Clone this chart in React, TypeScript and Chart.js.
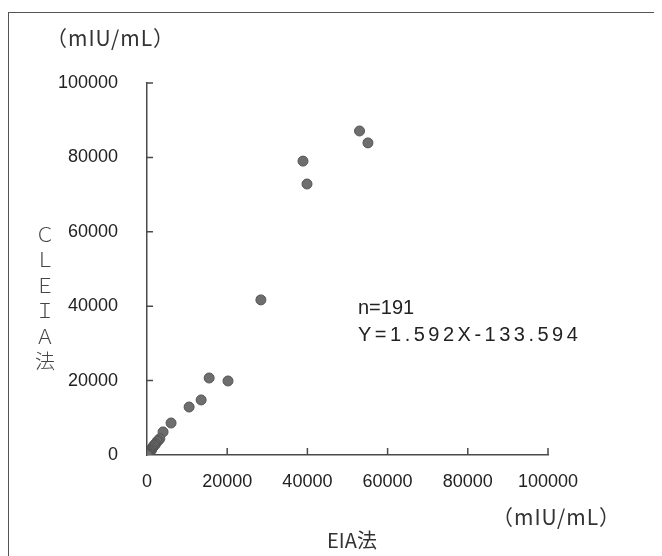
import React, { useEffect, useRef } from "react";
import { Chart, registerables } from "chart.js";

Chart.register(...registerables);

// EIA法 (x) vs CLEIA法 (y), mIU/mL
const eiaValues = [
  53000, 55100, 38900, 39900, 28400, 15500, 20200, 13500, 10500, 6000, 4000,
  3200, 2800, 2500, 2200, 2000, 1900, 1700, 1500, 1300, 1200, 1100, 1000, 900,
  800, 700, 600, 600, 500, 400, 400, 350, 300, 250, 200, 150, 100, 80, 50, 30, 20,
];
const cleiaValues = [
  87100, 83900, 79000, 72850, 41700, 20700, 19900, 14800, 12900, 8600, 6200,
  4400, 3900, 3600, 3100, 2800, 2700, 2500, 2200, 1900, 1500, 1600, 1200, 1300,
  1100, 900, 800, 1000, 700, 600, 500, 450, 400, 350, 300, 200, 150, 100, 60, 40, 20,
];
const xTicks = [0, 20000, 40000, 60000, 80000, 100000];
const yTicks = [0, 20000, 40000, 60000, 80000, 100000];
const unitLabel = "（mIU/mL）";
const xTitle = "EIA法";
const yTitleChars = ["Ｃ", "Ｌ", "Ｅ", "Ｉ", "Ａ", "法"];
const annotationLines = ["n=191", "Y=1.592X-133.594"];

const AXIS_COLOR = "#4a4a4a";
const TEXT_COLOR = "#222";

const inwardTicks = {
  id: "inwardTicks",
  afterDraw(chart: any) {
    const ctx = chart.ctx;
    const xs = chart.scales.x;
    const ys = chart.scales.y;
    const area = chart.chartArea;
    ctx.save();
    ctx.strokeStyle = AXIS_COLOR;
    ctx.lineWidth = 1.5;
    ctx.beginPath();
    xTicks.forEach((v) => {
      if (v === 0) return;
      const px = xs.getPixelForValue(v);
      ctx.moveTo(px, area.bottom);
      ctx.lineTo(px, area.bottom - 7);
    });
    yTicks.forEach((v) => {
      if (v === 0) return;
      const py = ys.getPixelForValue(v);
      ctx.moveTo(area.left, py);
      ctx.lineTo(area.left + 6, py);
    });
    ctx.stroke();
    ctx.restore();
  },
};

export default function App() {
  const canvasRef = useRef<HTMLCanvasElement | null>(null);

  useEffect(() => {
    if (!canvasRef.current) return;
    const points = eiaValues.map((x, i) => ({ x, y: cleiaValues[i] }));
    const chart = new Chart(canvasRef.current, {
      type: "scatter",
      data: {
        datasets: [
          {
            data: points,
            backgroundColor: "#6e6e6e",
            borderColor: "#555",
            borderWidth: 1,
            pointRadius: 5,
          },
        ],
      },
      options: {
        animation: false,
        responsive: false,
        maintainAspectRatio: false,
        layout: { padding: { left: 40, right: 106, top: 75, bottom: 61 } },
        plugins: { legend: { display: false }, tooltip: { enabled: false } },
        scales: {
          x: {
            type: "linear",
            min: 0,
            max: 100000,
            afterFit: (s: any) => {
              s.height = 40;
            },
            afterBuildTicks: (s: any) => {
              s.ticks = xTicks.map((v) => ({ value: v }));
            },
            grid: { display: false, drawTicks: false },
            border: { display: true, color: AXIS_COLOR, width: 1.5 },
            ticks: {
              autoSkip: false,
              maxRotation: 0,
              padding: 16,
              color: TEXT_COLOR,
              font: { family: "'Liberation Sans', Arial, sans-serif", size: 18 },
              callback: (v: any) => String(v),
            },
          },
          y: {
            type: "linear",
            min: 0,
            max: 100000,
            afterFit: (s: any) => {
              s.width = 99;
            },
            afterBuildTicks: (s: any) => {
              s.ticks = yTicks.map((v) => ({ value: v }));
            },
            grid: { display: false, drawTicks: false },
            border: { display: true, color: AXIS_COLOR, width: 1.5 },
            ticks: {
              autoSkip: false,
              padding: 29,
              color: TEXT_COLOR,
              font: { family: "'Liberation Sans', Arial, sans-serif", size: 18 },
              callback: (v: any) => String(v),
            },
          },
        },
      },
      plugins: [inwardTicks],
    });
    return () => chart.destroy();
  }, []);

  const cjk = "'Noto Sans CJK JP', 'Noto Sans', sans-serif";

  return (
    <div
      style={{
        position: "relative",
        width: 646,
        height: 548,
        overflow: "hidden",
        background: "#fff",
      }}
    >
      <div
        style={{
          position: "absolute",
          left: 0,
          top: 4,
          width: 647,
          height: 600,
          boxSizing: "border-box",
          border: "1.5px solid #555",
        }}
      />
      <canvas
        ref={canvasRef}
        width={646}
        height={548}
        style={{ position: "absolute", left: 0, top: 0, width: 646, height: 548 }}
      />
      <div
        style={{
          position: "absolute",
          left: 38,
          top: 16,
          lineHeight: "26px",
          fontFamily: cjk,
          fontSize: 21,
          letterSpacing: 1,
          color: "#333",
          whiteSpace: "nowrap",
        }}
      >
        {unitLabel}
      </div>
      <div
        style={{
          position: "absolute",
          left: 484,
          top: 495,
          lineHeight: "26px",
          fontFamily: cjk,
          fontSize: 21,
          letterSpacing: 1,
          color: "#333",
          whiteSpace: "nowrap",
        }}
      >
        {unitLabel}
      </div>
      <div
        style={{
          position: "absolute",
          left: 244,
          width: 200,
          top: 519,
          textAlign: "center",
          lineHeight: "26px",
          fontFamily: cjk,
          fontSize: 20,
          color: "#333",
          whiteSpace: "nowrap",
        }}
      >
        {xTitle}
      </div>
      <div
        style={{
          position: "absolute",
          left: 22,
          width: 30,
          top: 213,
          textAlign: "center",
          lineHeight: "25.4px",
          fontFamily: cjk,
          fontSize: 20,
          fontWeight: 300,
          color: "#444",
        }}
      >
        {yTitleChars.map((c, i) => (
          <div key={i}>{c}</div>
        ))}
      </div>
      <div
        style={{
          position: "absolute",
          left: 350,
          top: 286,
          lineHeight: "27px",
          fontFamily: "'Liberation Sans', Arial, sans-serif",
          fontSize: 20,
          color: TEXT_COLOR,
          whiteSpace: "nowrap",
        }}
      >
        <div>{annotationLines[0]}</div>
        <div style={{ letterSpacing: 3.5 }}>{annotationLines[1]}</div>
      </div>
    </div>
  );
}
